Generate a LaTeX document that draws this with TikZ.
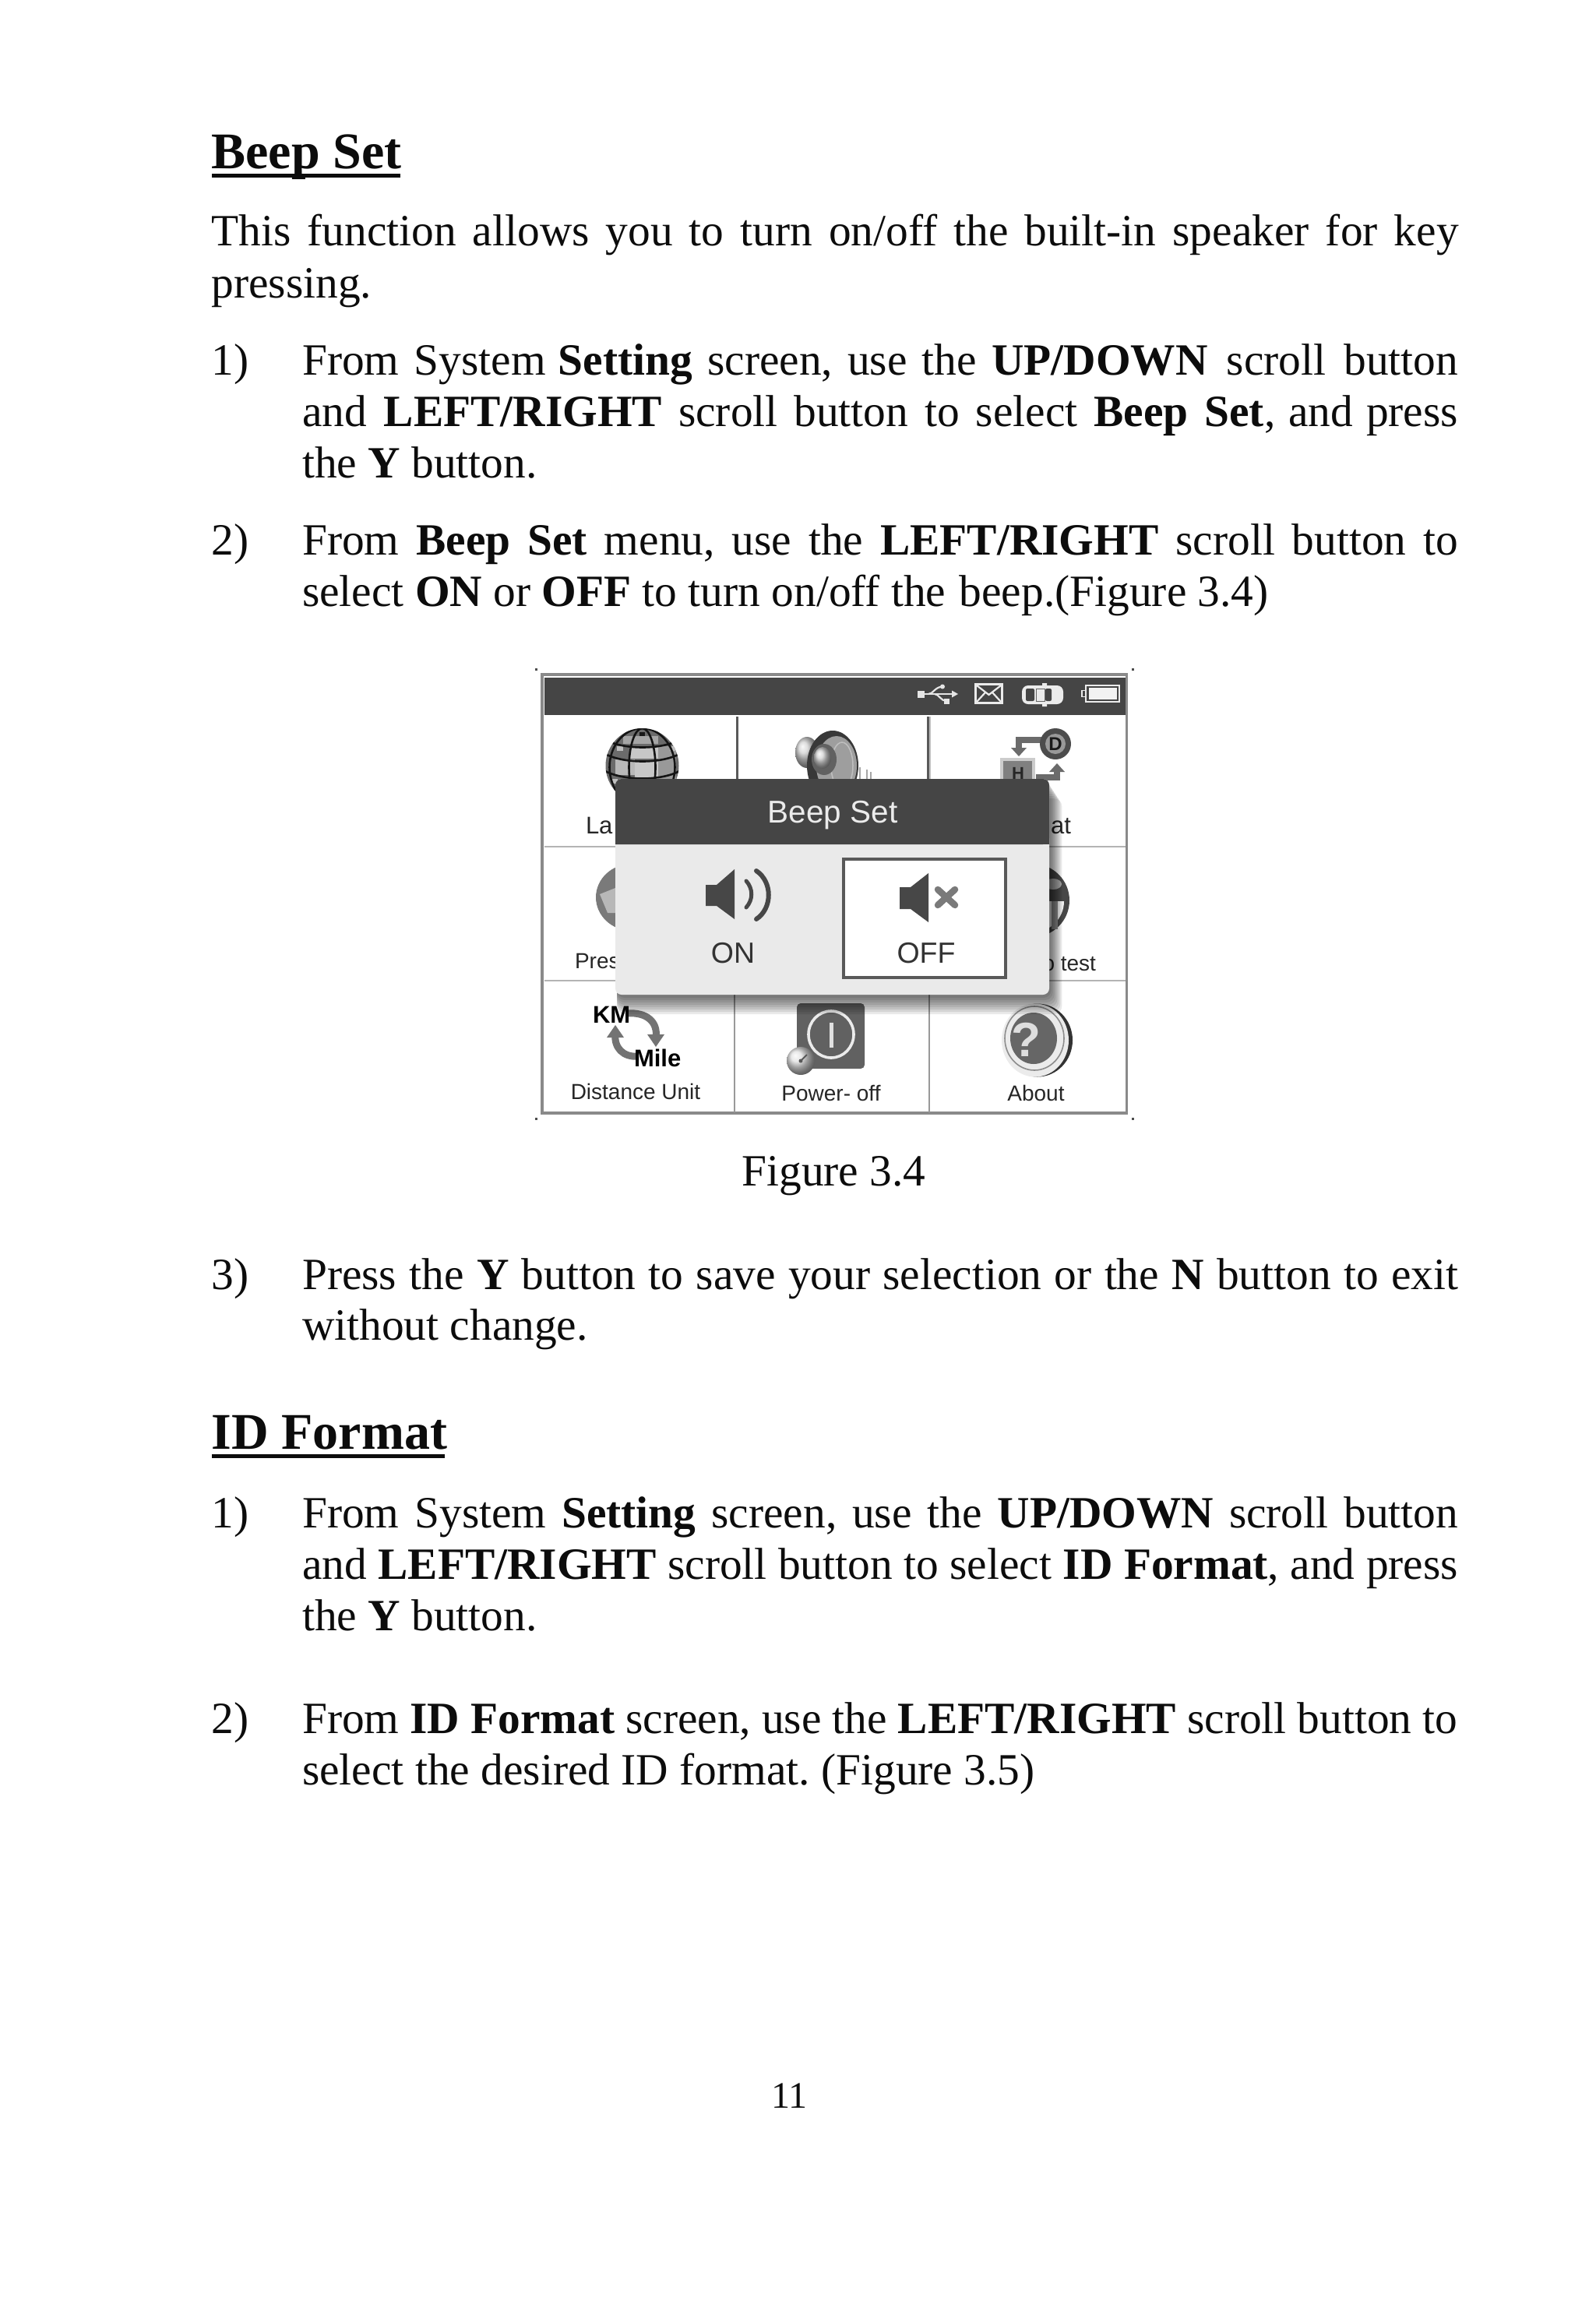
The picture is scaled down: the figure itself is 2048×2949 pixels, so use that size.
\documentclass[tikz,border=0pt]{standalone}
\usepackage{fontspec}
\setmainfont{Liberation Serif}
\setsansfont{Liberation Sans}
\definecolor{barc}{HTML}{454545}
\definecolor{ink}{HTML}{0C0C0C}
\definecolor{panel}{HTML}{EAEAEA}
\definecolor{gridc}{HTML}{B4B4B4}
\definecolor{framec}{HTML}{8A8A8A}
\definecolor{iconc}{HTML}{777777}
\tikzset{
  body/.style={anchor=base west,inner sep=0pt,outer sep=0pt,text=ink,font=\fontsize{57.4}{67}\selectfont\frenchspacing},
  head/.style={anchor=base west,inner sep=0pt,outer sep=0pt,text=ink,font=\fontsize{66}{72}\selectfont\bfseries},
  lab/.style={inner sep=0pt,outer sep=0pt,text=black!85,font=\fontsize{28}{30}\selectfont\sffamily},
  toplab/.style={inner sep=0pt,outer sep=0pt,text=black!85,font=\fontsize{31}{33}\selectfont\sffamily},
  biglab/.style={inner sep=0pt,outer sep=0pt,text=black!80,font=\fontsize{37.5}{40}\selectfont\sffamily},
  iconlab/.style={inner sep=0pt,outer sep=0pt,text=black,font=\fontsize{31}{33}\selectfont\sffamily\bfseries},
  dotm/.style={fill=black!70,draw=none},
  ulin/.style={fill=ink,draw=none},
  grayarrow/.style={draw=black!58,line width=8pt},
  grayhead/.style={fill=black!58,draw=none}
}
\newcommand{\fl}[5]{\node[body] (#1) at (#2,#3) {\makebox[#4pt][s]{#5}};}
\newcommand{\pl}[4]{\node[body] (#1) at (#2,#3) {#4};}
\begin{document}
\begin{tikzpicture}[x=1pt,y=-1pt]
\useasboundingbox (0,0) rectangle (2048,2949);
\fill[white] (0,0) rectangle (2048,2949);
\begin{scope}[x=1.8796pt,y=-1.8796pt]
\node[head] (h1) at (144.5,115) {Beep Set};
\fill[ulin] (144.5,118.6) rectangle (273.5,121.2);
\fl{a1}{144.5}{168}{1601}{This function allows you to turn on/off the built-in speaker for key}
\pl{a2}{144.5}{203.5}{pressing.}
\pl{n1}{144.5}{256}{1)}
\fl{b1}{206.5}{256}{1484}{From System\hspace{-3pt} \textbf{Setting} screen, use the \textbf{UP/DOWN}\hspace{5pt} scroll\hspace{4pt} button}
\fl{b2}{206.5}{291.5}{1484}{and\hspace{1pt} \textbf{LEFT/RIGHT} scroll button to select \textbf{Beep Set},\hspace{-4pt} and\hspace{-4pt} press}
\pl{b3}{206.5}{326.5}{the \textbf{Y} button.}
\pl{n2}{144.5}{379}{2)}
\fl{c1}{206.5}{379}{1484}{From \textbf{Beep Set} menu, use the \textbf{LEFT/RIGHT} scroll button to}
\pl{c2}{206.5}{414}{select \textbf{ON} or \textbf{OFF} to turn on/off the\hspace{3pt} beep.(Figure 3.4)}
\node[body,anchor=base] (cap) at (569.5,810) {Figure 3.4};
\pl{n3}{144.5}{880.5}{3)}
\fl{d1}{206.5}{880.5}{1484}{Press the \textbf{Y} button to save your selection or the \textbf{N} button to exit}
\pl{d2}{206.5}{915.5}{without change.}
\node[head] (h2) at (144.5,990) {ID Format};
\fill[ulin] (144.5,993.5) rectangle (304,996.1);
\pl{n4}{144.5}{1043.5}{1)}
\fl{e1}{206.5}{1043.5}{1484}{From System \textbf{Setting} screen, use the \textbf{UP/DOWN} scroll button}
\fl{e2}{206.5}{1078.5}{1484}{and \textbf{LEFT/RIGHT} scroll button to select \textbf{ID Format}, and press}
\pl{e3}{206.5}{1114}{the \textbf{Y} button.}
\pl{n5}{144.5}{1184}{2)}
\fl{f1}{206.5}{1184}{1483}{From \textbf{ID Format} screen, use the \textbf{LEFT/RIGHT} scroll button to}
\pl{f2}{206.5}{1219}{select the desired ID format. (Figure 3.5)}
\node[body,anchor=base,font=\fontsize{48}{56}\selectfont] (pg) at (539,1440) {11};
\end{scope}
% ---- screenshot, in page pixels
\foreach \px/\py in {688/859,1454/859,688/1436,1454/1436}{\fill[dotm] (\px-1.5,\py-1.5) rectangle (\px+1.5,\py+1.5);}
\fill[white] (696,866) rectangle (1446.5,1429);
\draw[framec,line width=3.5pt] (696,866) rectangle (1446.5,1429);
\fill[barc] (699,870) rectangle (1445,918);
\draw[black!65,line width=3pt] (946,920) -- (946,1001) (1191,920) -- (1191,1001);
\draw[black!25,line width=2pt] (1194,920) -- (1194,1001);
\draw[gridc,line width=2pt] (699,1087) -- (1445,1087) (699,1259) -- (1445,1259);
\draw[black!40,line width=1.2pt] (943,1259) -- (943,1428) (1193,1259) -- (1193,1428);
% status bar
\draw[white!90!black,line width=2.4pt] (1183,891) -- (1224,891);
\draw[white!90!black,line width=2.2pt] (1192,891) .. controls (1198,891) and (1200,882) .. (1210,881.5) (1200,891) .. controls (1205,891) and (1208,900) .. (1215,900);
\fill[white!90!black] (1178,886.5) rectangle (1187,895.5);
\fill[white!90!black] (1210,881.5) circle [radius=3];
\fill[white!90!black] (1212,897) rectangle (1219,904);
\fill[white!90!black] (1230,891) -- (1222,886.5) -- (1222,895.5) -- cycle;
\draw[white!92!black,line width=3pt] (1252.5,878.5) rectangle (1286.5,902.5);
\draw[white!92!black,line width=2.2pt] (1254,880) -- (1269.5,892) -- (1285,880) (1254,901) -- (1265,889) (1285,901) -- (1274,889);
\fill[white!92!black,rounded corners=8pt] (1312,880) rectangle (1365,904);
\fill[white!92!black] (1338,877) rectangle (1344,880) (1338,904) rectangle (1344,907);
\fill[barc,rounded corners=2pt] (1317,884) rectangle (1328,900);
\fill[barc,rounded corners=2pt] (1342,884) rectangle (1350,900);
\draw[black!60,line width=1pt] (1330,884) rectangle (1341,900);
\draw[white!92!black,line width=2pt] (1394,880) rectangle (1437,901);
\fill[white!95!black] (1397.5,883) rectangle (1433.5,898);
\draw[white!92!black,line width=1.6pt] (1389,886.5) rectangle (1393.5,894.5);
% globe
\begin{scope}
\fill[black!58] (824.5,983) ellipse [x radius=47,y radius=48];
\clip (824.5,983) ellipse [x radius=47,y radius=48];
\fill[black!22] (808,958) rectangle (850,974);
\fill[black!28] (790,975) rectangle (815,995);
\fill[black!22] (815,976) rectangle (845,1001);
\fill[black!40] (845,958) rectangle (868,1000);
\fill[black!35] (800,945) rectangle (845,955);
\foreach \tx/\ty in {792/958,860/958,785/1000}{\fill[black!25] (\tx,\ty) rectangle (\tx+8,\ty+6);}
\foreach \rx in {17,42}{\draw[black!92,line width=2.6pt] (824.5,985) ellipse [x radius=\rx,y radius=50];}
\foreach \hy in {957,975,997,1018}{\draw[black!92,line width=2.6pt] (775,\hy-8) .. controls (800,\hy+6) and (850,\hy+6) .. (874,\hy-8);}
\fill[black!90] (821,940) rectangle (828,945);
\end{scope}
% speaker cell icon
\shade[ball color=black!18] (1036,966) ellipse [x radius=15,y radius=20];
\fill[black!78] (1069,983) ellipse [x radius=33,y radius=45];
\fill[black!38] (1074,983) ellipse [x radius=26,y radius=38];
\draw[black!25,line width=1.5pt] (1081,983) ellipse [x radius=14,y radius=30];
\fill[black!62] (1058,975) ellipse [x radius=16,y radius=20];
\shade[ball color=black!18] (1056,973) ellipse [x radius=11,y radius=14];
\foreach \wx/\wy in {1104/985,1113/988,1118/991}{\fill[black!35] (\wx-1.3,\wy) rectangle (\wx+1.3,1001);}
% format cell icon
\draw[grayarrow] (1338,950) -- (1308,950) -- (1308,964);
\fill[grayhead] (1308,971) -- (1298,960) -- (1318,960) -- cycle;
\fill[black!70] (1355,955) circle [radius=20];
\fill[black!40] (1355,955) circle [radius=13];
\node[inner sep=0pt,text=black!90,font=\fontsize{24}{26}\selectfont\sffamily\bfseries] (dmark) at (1355,955) {D};
\fill[black!20] (1284,973) rectangle (1329,1002);
\fill[black!50] (1288,977) rectangle (1325,1002);
\node[inner sep=0pt,text=black!85,font=\fontsize{22}{24}\selectfont\sffamily\bfseries] (hmark) at (1307,993) {H};
\draw[grayarrow] (1330,998) -- (1357,998) -- (1357,987);
\fill[grayhead] (1357,980) -- (1347,991) -- (1367,991) -- cycle;
% middle row icons
\fill[black!52] (811,1152) ellipse [x radius=46,y radius=43];
\fill[black!28] (770,1148) -- (790,1140) -- (790,1172) -- (780,1172) -- cycle;
\fill[black!72] (1326,1156) ellipse [x radius=47,y radius=47];
\fill[white!94!black] (1286,1157) arc [start angle=180,end angle=0,radius=40] -- cycle;
\fill[black!45] (1350,1157) rectangle (1358,1193);
\fill[black!35] (1352,1135) ellipse [x radius=11,y radius=7];
% text of the covered cells
\node[toplab,anchor=base west] (lLa) at (752,1070) {La};
\node[toplab,anchor=base east] (lat) at (1375,1070) {mat};
\node[lab,anchor=base west] (lPr) at (738,1243) {Pres};
\node[lab,anchor=base east] (lte) at (1407,1246) {o test};
% bottom row
\draw[draw=black!55,line width=9pt] (805,1301) .. controls (830,1299) and (845,1312) .. (842,1332);
\fill[black!55] (842,1344) -- (831,1328) -- (853,1328) -- cycle;
\draw[draw=black!55,line width=9pt] (820,1356) .. controls (800,1358) and (788,1345) .. (790,1327);
\fill[black!55] (790,1316) -- (779,1332) -- (801,1332) -- cycle;
\node[iconlab,anchor=base west] (km) at (761,1313) {KM};
\node[iconlab,anchor=base west] (mile) at (814,1369) {Mile};
\node[lab,anchor=base] (ldist) at (816,1411) {Distance Unit};
\fill[black!62,rounded corners=5pt] (1023,1288) rectangle (1110,1372);
\draw[white!92!black,line width=3.6pt] (1067,1328) ellipse [x radius=29,y radius=30];
\fill[white!88!black] (1065,1313) rectangle (1069.5,1345);
\shade[ball color=black!12] (1028,1362) circle [radius=18];
\draw[black!65,line width=2pt] (1028,1362) -- (1036,1354);
\fill[black!65] (1028,1362) circle [radius=2.5];
\node[lab,anchor=base] (lpow) at (1067,1413) {Power- off};
\fill[black!80] (1332,1335.5) ellipse [x radius=45,y radius=47];
\fill[black!8] (1329,1335.5) ellipse [x radius=43,y radius=47];
\draw[black!45,line width=1.6pt] (1328,1333) ellipse [x radius=38,y radius=41];
\fill[black!60] (1327,1333) ellipse [x radius=30,y radius=33];
\node[inner sep=0pt,text=black!13,font=\fontsize{62}{64}\selectfont\sffamily\bfseries] (qm) at (1317,1335) {?};
\node[lab,anchor=base] (labt) at (1330,1413) {About};
% dialog shadow
\foreach \g in {25,22,19,16,13,10,7,4}{
  \fill[black,opacity=0.085,rounded corners=10pt] (792,1000+\g) rectangle (1347+\g*0.65,1277+\g);
}
% dialog
\fill[panel,rounded corners=8pt] (790,1000) rectangle (1347,1277);
\fill[barc,rounded corners=8pt] (790,1084) -- (790,1000) -- (1347,1000) -- (1347,1084) [sharp corners] -- cycle;
\fill[barc] (790,1060) rectangle (1347,1084);
\node[inner sep=0pt,text=white!92!black,font=\fontsize{40.5}{44}\selectfont\sffamily,anchor=base] (dlg) at (1069,1056) {Beep Set};
\fill[white] (1083,1103) rectangle (1291,1255);
\draw[black!65,line width=3.5pt] (1083,1103) rectangle (1291,1255);
% ON icon
\fill[black!72] (906,1136) -- (920,1136) -- (943,1116) -- (943,1180) -- (920,1163) -- (906,1163) -- cycle;
\draw[black!72,line width=5pt,line cap=round] (958,1131) .. controls (967,1141) and (967,1155) .. (958,1165);
\draw[black!72,line width=6pt,line cap=round] (971,1118) .. controls (992,1132) and (992,1166) .. (971,1180);
\node[biglab,anchor=base] (lon) at (941,1236) {ON};
% OFF icon
\fill[black!72] (1155,1139) -- (1169,1139) -- (1192,1121) -- (1192,1184) -- (1169,1167) -- (1155,1167) -- cycle;
\draw[black!52,line width=8.5pt,line cap=round] (1204,1142) -- (1226,1162) (1226,1142) -- (1204,1162);
\node[biglab,anchor=base] (loff) at (1189,1236) {OFF};
\end{tikzpicture}
\end{document}
